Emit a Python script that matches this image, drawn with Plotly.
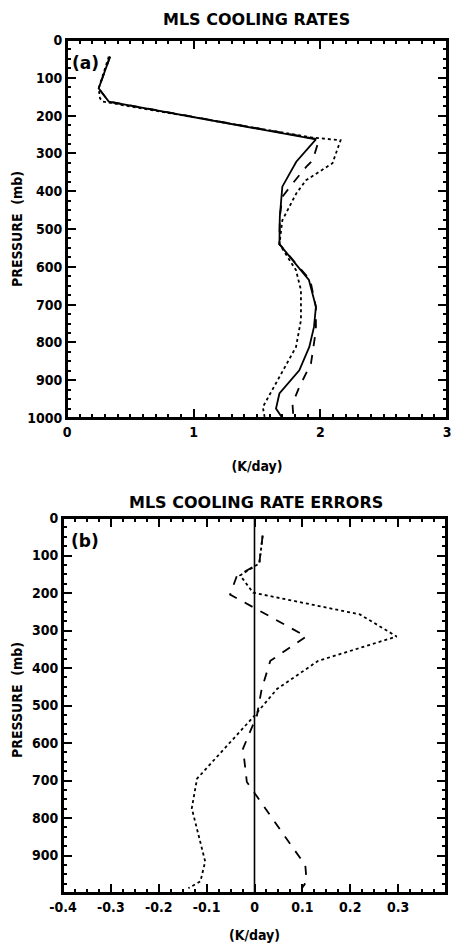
import plotly.graph_objects as go

# ---- Panel (a): cooling rates (K/day) vs pressure (mb)
p_a_solid = [44, 128, 163, 263, 322, 388, 468, 540, 604, 635, 706, 759, 812, 874, 935, 975, 1000]
x_a_solid = [0.34, 0.25, 0.33, 1.965, 1.81, 1.70, 1.68, 1.677, 1.834, 1.91, 1.965, 1.95, 1.913, 1.834, 1.677, 1.65, 1.70]

p_a_dash = [44, 128, 163, 263, 318, 335, 380, 415, 468, 540, 604, 635, 706, 768, 856, 918, 962, 997]
x_a_dash = [0.34, 0.25, 0.33, 1.99, 1.94, 1.89, 1.78, 1.70, 1.68, 1.677, 1.84, 1.92, 1.965, 1.965, 1.926, 1.834, 1.78, 1.787]

p_a_dot = [44, 128, 154, 163, 258, 265, 326, 371, 406, 477, 540, 609, 662, 741, 812, 891, 971, 997]
x_a_dot = [0.33, 0.25, 0.26, 0.28, 1.93, 2.16, 2.096, 1.887, 1.81, 1.70, 1.677, 1.808, 1.847, 1.847, 1.808, 1.677, 1.546, 1.56]

# ---- Panel (b): cooling rate errors (K/day)
p_b_zero = [0, 1000]
x_b_zero = [0, 0]

p_b_dash = [47, 121, 155, 204, 316, 381, 456, 527, 615, 704, 881, 925, 969, 987]
x_b_dash = [0.017, 0.010, -0.037, -0.051, 0.108, 0.033, 0.015, 0.005, -0.024, -0.016, 0.081, 0.106, 0.109, 0.099]

p_b_dot = [47, 121, 153, 199, 257, 316, 381, 456, 527, 695, 774, 916, 969, 987]
x_b_dot = [0.017, 0.010, -0.030, -0.003, 0.220, 0.297, 0.133, 0.047, 0.0, -0.120, -0.131, -0.103, -0.113, -0.138]

a_xticks = [0, 1, 2, 3]
a_xtext = ["0", "1", "2", "3"]
a_yticks = [0, 100, 200, 300, 400, 500, 600, 700, 800, 900, 1000]
a_ytext = [str(v) for v in a_yticks]
b_xticks = [-0.4, -0.3, -0.2, -0.1, 0, 0.1, 0.2, 0.3, 0.4]
b_xtext = ["-0.4", "-0.3", "-0.2", "-0.1", "0", "0.1", "0.2", "0.3", "0.4"]
b_yticks = [0, 100, 200, 300, 400, 500, 600, 700, 800, 900]
b_ytext = [str(v) for v in b_yticks]

FONT = "Liberation Sans Narrow, DejaVu Sans Condensed, Arial Narrow, sans-serif"
TFONT = "DejaVu Sans, Verdana, sans-serif"
LW = 1.8

fig = go.Figure()
def line(x, y, dash, xa, ya, w=LW):
    fig.add_trace(go.Scatter(x=x, y=y, mode="lines", xaxis=xa, yaxis=ya,
                             line=dict(color="black", width=w, dash=dash),
                             showlegend=False, hoverinfo="skip"))

line(x_a_solid, p_a_solid, "solid", "x", "y")
line(x_a_dash, p_a_dash, "dash", "x", "y")
line(x_a_dot, p_a_dot, "dot", "x", "y")
line(x_b_zero, p_b_zero, "solid", "x2", "y2", 1.6)
line(x_b_dash, p_b_dash, "dash", "x2", "y2")
line(x_b_dot, p_b_dot, "dot", "x2", "y2")

W, H = 457, 944
def dom_x(a, b): return [a / W, b / W]
def dom_y(top, bot): return [1 - bot / H, 1 - top / H]

TICKF = dict(family=FONT, size=14, color="black", weight="bold")
axis_common = dict(showline=True, linecolor="black", linewidth=2, mirror="allticks",
                   ticks="inside", ticklen=9, tickwidth=2, tickcolor="black",
                   showgrid=False, zeroline=False, automargin=False,
                   tickfont=TICKF)
MINOR = dict(ticks="inside", ticklen=4, tickwidth=1.5, tickcolor="black")

def ann(text, x, y, size=14, angle=0, family=FONT):
    return dict(text=text, x=x / W, y=1 - y / H, xref="paper", yref="paper",
                xanchor="center", yanchor="middle",
                showarrow=False, textangle=angle,
                font=dict(family=family, size=size, color="black", weight="bold"))

fig.update_layout(
    width=W, height=H, paper_bgcolor="white", plot_bgcolor="white",
    margin=dict(l=0, r=0, t=0, b=0),
    xaxis=dict(domain=dom_x(67, 447), range=[0, 3], anchor="y",
               tickmode="array", tickvals=a_xticks, ticktext=a_xtext,
               minor=dict(dtick=0.1, **MINOR),
               title=dict(text="(K/day)", font=TICKF, standoff=22),
               **axis_common),
    yaxis=dict(domain=dom_y(40, 418), range=[1000, 0], anchor="x",
               tickmode="array", tickvals=a_yticks, ticktext=a_ytext,
               minor=dict(dtick=25, **MINOR),
               **axis_common),
    xaxis2=dict(domain=dom_x(63, 446), range=[-0.4, 0.4], anchor="y2",
                tickmode="array", tickvals=b_xticks, ticktext=b_xtext,
                minor=dict(dtick=0.025, **MINOR),
                title=dict(text="(K/day)", font=TICKF, standoff=16),
                **axis_common),
    yaxis2=dict(domain=dom_y(518, 893), range=[1000, 0], anchor="x2",
                tickmode="array", tickvals=b_yticks, ticktext=b_ytext,
                minor=dict(dtick=25, **MINOR),
                **axis_common),
    shapes=[
        dict(type="rect", xref="x domain", yref="y domain", x0=0, x1=1, y0=0, y1=1,
             line=dict(color="black", width=2)),
        dict(type="rect", xref="x2 domain", yref="y2 domain", x0=0, x1=1, y0=0, y1=1,
             line=dict(color="black", width=2)),
    ],
    annotations=[
        ann("MLS COOLING RATES", 256, 20, size=16, family=TFONT),
        ann("MLS COOLING RATE ERRORS", 256, 503, size=16, family=TFONT),
        ann("(a)", 85, 63, size=17, family=TFONT),
        ann("(b)", 85, 541, size=17, family=TFONT),
        ann("PRESSURE  (mb)", 17, 229, angle=-90),
        ann("PRESSURE  (mb)", 17, 700, angle=-90),
    ],
)

fig.write_html("out.html", config={"displayModeBar": False},
               post_script="document.body.style.margin='0';")
